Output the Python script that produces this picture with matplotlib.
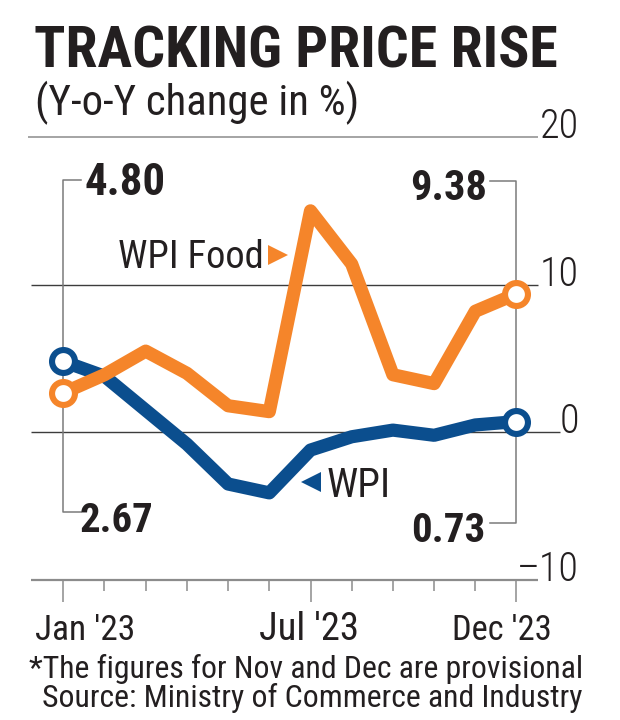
import numpy as np
import matplotlib
matplotlib.use("Agg")
import matplotlib.pyplot as plt
import matplotlib.transforms as mtransforms
from matplotlib import font_manager as fm

# ---------------- data ----------------
months = ["Jan", "Feb", "Mar", "Apr", "May", "Jun",
          "Jul", "Aug", "Sep", "Oct", "Nov", "Dec"]
wpi = [4.80, 3.8, 1.5, -0.8, -3.5, -4.1, -1.2, -0.3, 0.15, -0.2, 0.5, 0.73]
wpi_food = [2.67, 3.9, 5.5, 4.0, 1.8, 1.4, 15.0, 11.4, 3.9, 3.3, 8.2, 9.38]
y_ticks = [-10, 0, 10, 20]
x_label_idx = [0, 6, 11]
x_labels = ["Jan '23", "Jul '23", "Dec '23"]
title = "TRACKING PRICE RISE"
subtitle = "(Y-o-Y change in %)"
note1 = "*The figures for Nov and Dec are provisional"
note2 = "Source: Ministry of Commerce and Industry"

# ---------------- style ----------------
ORANGE = "#F5852A"
BLUE = "#0B4E8E"
INK = "#231F20"
GRID_DARK = "#3C3C3C"
GRID_GRAY = "#8C8C8C"

available = {f.name for f in fm.fontManager.ttflist}
def pick(cands):
    for c in cands:
        if c in available:
            return c
    return "DejaVu Sans"

COND = pick(["Roboto Condensed", "Liberation Sans Narrow", "DejaVu Sans"])

W, H = 620, 720
fig = plt.figure(figsize=(W / 100, H / 100), dpi=100)
fig.patch.set_facecolor("white")

def fx(px):
    return px / W

def fy(py):
    return 1 - py / H

# axes: x pixel 28..580, y pixel 137 (20) .. 580 (-10)
X0, X1, Y_TOP, Y_BOT = 28, 580, 137, 580
JAN_PX, STEP = 63.3, 41.2
ax = fig.add_axes([fx(X0), fy(Y_BOT), (X1 - X0) / W, (Y_BOT - Y_TOP) / H])
ax.set_xlim((X0 - JAN_PX) / STEP, (X1 - JAN_PX) / STEP)
ax.set_ylim(y_ticks[0], y_ticks[-1])
for s in ax.spines.values():
    s.set_visible(False)
ax.set_facecolor("none")
ax.set_yticks([])
xs = np.arange(len(months))
ax.set_xticks(x_label_idx)
ax.set_xticks(xs, minor=True)
ax.tick_params(axis="x", which="major", length=22 * 0.72, width=1.1,
               color=GRID_GRAY, labelbottom=False)
ax.tick_params(axis="x", which="minor", length=11 * 0.72, width=1.1,
               color=GRID_GRAY)

blend = mtransforms.blended_transform_factory(ax.transAxes, ax.transData)
def axfrac(px):
    return (px - X0) / (X1 - X0)

# horizontal reference lines
line_spec = {
    20: (28, 538, GRID_GRAY, 1.1),
    10: (31, 538, GRID_DARK, 1.0),
    0: (31, 560, GRID_DARK, 1.0),
    -10: (31, 538, GRID_GRAY, 1.6),
}
for v in y_ticks:
    a, b, c, lw = line_spec[v]
    ax.plot([axfrac(a), axfrac(b)], [v, v], transform=blend, color=c,
            lw=lw, solid_capstyle="butt", zorder=1, clip_on=False)

# leader lines for end labels (gray)
LEAD = "#7A7A7A"
ax.plot([0.43, 0, 0, 0.43], [17.1, 17.1, -5.38, -5.38], color=LEAD, lw=1.1,
        zorder=1.5, clip_on=False)
ax.plot([10.36, 11, 11, 10.36], [17.0, 17.0, -6.12, -6.12], color=LEAD,
        lw=1.1, zorder=1.5, clip_on=False)

# series
LW = 9.5
ax.plot(xs, wpi, color=BLUE, lw=LW, solid_joinstyle="round",
        solid_capstyle="round", zorder=3)
ax.plot(xs, wpi_food, color=ORANGE, lw=LW, solid_joinstyle="round",
        solid_capstyle="round", zorder=4)
for series, col in ((wpi, BLUE), (wpi_food, ORANGE)):
    ax.plot([xs[0], xs[-1]], [series[0], series[-1]], ls="none", marker="o",
            ms=16.5, mew=4.4, mec=col, mfc="white", zorder=5)

# ---------------- text helpers ----------------
fig.canvas.draw()
renderer = fig.canvas.get_renderer()

def fit(t, target_w):
    for _ in range(3):
        bb = t.get_window_extent(renderer=renderer)
        if bb.width <= 0:
            break
        t.set_fontsize(t.get_fontsize() * target_w / bb.width)
    return t

def ftext(px, py, s, target_w, ha="left", **kw):
    t = fig.text(fx(px), fy(py), s, ha=ha, va="baseline", color=INK, **kw)
    fit(t, target_w)
    return t

# title and subtitle
ftext(34, 67, title, 524, family=COND, fontweight=900, fontsize=40)
ftext(35, 115, subtitle, 324, family=COND, fontsize=24)

# y tick labels (right side, baseline on the line)
for v in y_ticks:
    py = Y_BOT - (v - y_ticks[0]) / (y_ticks[-1] - y_ticks[0]) * (Y_BOT - Y_TOP)
    fig.text(fx(579), fy(py + 1), f"{v}".replace("-", "\u2013"), ha="right",
             va="baseline", color=INK, family=COND, fontweight="light",
             fontsize=29)

# x tick labels
xl = [(35, "left"), (309, "center"), (552, "right")]
for (px, ha), s in zip(xl, x_labels):
    ftext(px, 640, s, 100, ha=ha, family=COND, fontsize=28)

# value labels
num_kw = dict(family=COND, fontweight="bold", fontsize=30)
ftext(85, 195, f"{wpi[0]:.2f}", 81, **num_kw)
ftext(80, 531.7, f"{wpi_food[0]:.2f}", 74, **num_kw)
ftext(487, 200, f"{wpi_food[-1]:.2f}", 77, ha="right", **num_kw)
ftext(485, 541.7, f"{wpi[-1]:.2f}", 74, ha="right", **num_kw)

# series labels with triangles
ftext(118, 268, "WPI Food", 146, family=COND, fontsize=28)
ftext(327, 496.7, "WPI", 64, family=COND, fontsize=28)
fig.lines.append(plt.Line2D([fx(278)], [fy(255)], marker=">", ms=15, color=ORANGE,
                            mew=0, transform=fig.transFigure))
fig.lines.append(plt.Line2D([fx(311)], [fy(482)], marker="<", ms=15, color=BLUE,
                            mew=0, transform=fig.transFigure))

# footnotes
t1 = ftext(583, 678, note1, 555, ha="right", family=COND, fontsize=20)
fig.text(fx(583), fy(707), note2, ha="right", va="baseline", color=INK,
         family=COND, fontsize=t1.get_fontsize())

fig.savefig("out.png", dpi=100, facecolor="white")
